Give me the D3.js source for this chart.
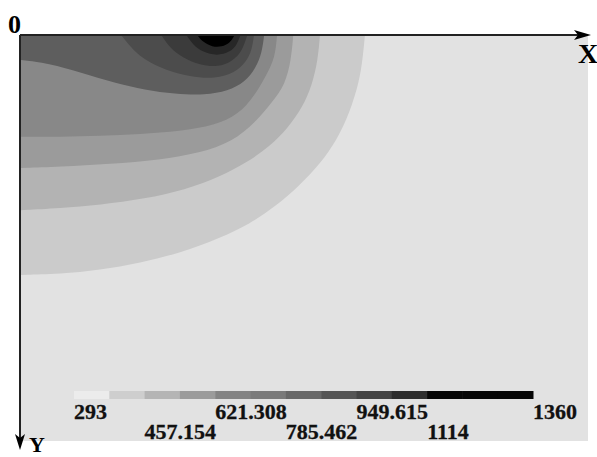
<!DOCTYPE html>
<html>
<head>
<meta charset="utf-8">
<script src="https://cdn.jsdelivr.net/npm/d3@7"></script>
<style>
  body { margin: 0; background: #fff; }
</style>
</head>
<body>
<script>
// isotherm boundaries, plate units: x 0-140, y 0-100 (down from top edge)
let isoA = [[0,59.0],[9.6,58.8],[19.5,57.8],[29.4,56.0],[39.3,53.6],[49.1,49.9],[56.5,46.4],[62.7,42.2],[68.9,36.8],[73.8,31.6],[78.0,25.7],[81.2,18.8],[83.5,11.4],[84.4,5.4],[84.9,0]];
let isoB = [[0,43.0],[9.6,42.5],[19.5,41.7],[30.6,40.2],[40.5,38.0],[49.1,34.8],[56.0,31.1],[61.5,27.2],[65.9,22.7],[69.4,17.8],[71.9,12.1],[73.3,5.9],[73.8,0]];
let isoC = [[0,32.6],[9.6,32.3],[22.0,31.6],[34.3,30.6],[44.2,28.9],[52.1,26.2],[58.0,21.2],[62.0,16.3],[65.2,12.1],[66.7,5.9],[67.2,0]];
let isoD = [[0,24.9],[9.6,24.9],[19.5,24.7],[29.4,24.2],[39.3,23.5],[47.9,22.0],[53.6,19.5],[57.8,14.6],[60.7,9.4],[62.7,5.4],[63.2,0]];
let isoE = [[0,5.9],[6.7,6.7],[15.1,9.1],[23.2,11.6],[30.6,13.3],[38.0,14.3],[45.4,14.6],[51.1,13.6],[55.3,11.4],[58.0,7.9],[59.5,4.0],[60.0,0]];
// rings round the source, both ends on the top edge
let isoF = [[24.9,0],[27.7,3.5],[30.6,5.9],[35.6,8.4],[41.7,10.1],[47.9,10.6],[52.8,9.1],[55.6,6.4],[57.0,3.5],[57.5,0]];
let isoG = [[34.8,0],[36.8,3.0],[40.0,5.4],[44.2,7.2],[48.6,7.7],[52.3,6.2],[54.6,3.7],[55.8,0]];
let isoH = [[41.0,0],[42.5,2.2],[44.9,4.0],[48.4,4.9],[51.6,4.0],[53.3,2.2],[54.1,0]];
let isoI = [[43.7,0],[44.9,1.5],[47.2,2.7],[49.6,2.7],[51.6,1.7],[52.6,0]];

let levelColors = ["#e2e2e2","#cbcbcb","#b3b3b3","#9b9b9b","#888888","#5e5e5e","#4c4c4c","#3b3b3b","#272727","#000000"];

let legendColors = ["#ececec","#cecece","#b5b5b5","#9b9b9b","#848484","#7a7a7a","#686868","#555555","#444444","#2e2e2e","#060606","#060606","#060606"];
let legendValues = [293, 457.154, 621.308, 785.462, 949.615, 1114, 1360];
let legendLabels = ["293","457.154","621.308","785.462","949.615","1114","1360"];

const svg = d3.select("body").append("svg")
    .attr("width", 597)
    .attr("height", 457)
    .style("background-color", "#fff");

let x = d3.scaleLinear().domain([0, 140]).range([21, 588]);
let y = d3.scaleLinear().domain([0, 100]).range([36, 441]);

// plate background = coolest level
svg.append("rect")
    .attr("x", x(0)).attr("y", y(0))
    .attr("width", x(140) - x(0))
    .attr("height", y(100) - y(0))
    .attr("fill", levelColors[0]);

let isolines = [
    {pts: isoA, lvl: 1, edge: true},
    {pts: isoB, lvl: 2, edge: true},
    {pts: isoC, lvl: 3, edge: true},
    {pts: isoD, lvl: 4, edge: true},
    {pts: isoE, lvl: 5, edge: true},
    {pts: isoF, lvl: 6, edge: false},
    {pts: isoG, lvl: 7, edge: false},
    {pts: isoH, lvl: 8, edge: false},
    {pts: isoI, lvl: 9, edge: false}
];

let lineGen = d3.line()
    .x(d => x(d[0]))
    .y(d => y(d[1]))
    .curve(d3.curveBasis);

svg.selectAll(".band")
    .data(isolines)
    .enter()
    .append("path")
    .attr("class", "band")
    .attr("d", d => d.edge
        ? lineGen(d.pts) + "L" + x(0) + "," + y(0) + "Z"
        : lineGen(d.pts) + "Z")
    .attr("fill", d => levelColors[d.lvl]);

// axes with arrows
svg.append("line")
    .attr("x1", 20).attr("y1", 35).attr("x2", 586).attr("y2", 35)
    .attr("stroke", "#222").attr("stroke-width", 2);
svg.append("path")
    .attr("d", "M591,35 L574,30 L578,35 L574,40 Z")
    .attr("fill", "#000");
svg.append("line")
    .attr("x1", 20).attr("y1", 35).attr("x2", 20).attr("y2", 445)
    .attr("stroke", "#222").attr("stroke-width", 2);
svg.append("path")
    .attr("d", "M20,450 L15,434 L20,438 L25,434 Z")
    .attr("fill", "#000");

svg.append("text")
    .attr("x", 8).attr("y", 33)
    .attr("font-family", "Liberation Serif, serif")
    .attr("font-weight", "bold")
    .attr("font-size", "26px")
    .text("0");
svg.append("text")
    .attr("x", 578).attr("y", 63)
    .attr("font-family", "Liberation Serif, serif")
    .attr("font-weight", "bold")
    .attr("font-size", "28px")
    .text("X");
svg.append("text")
    .attr("x", 29).attr("y", 452)
    .attr("font-family", "Liberation Serif, serif")
    .attr("font-weight", "bold")
    .attr("font-size", "22px")
    .text("Y");

// legend
let legScale = d3.scaleLinear().domain([293, 1360]).range([74, 533]);
let segScale = d3.scaleBand().domain(d3.range(legendColors.length)).range([74, 533]);

svg.selectAll(".seg")
    .data(legendColors)
    .enter()
    .append("rect")
    .attr("class", "seg")
    .attr("x", (d, i) => segScale(i))
    .attr("y", 391)
    .attr("width", segScale.bandwidth() + 0.5)
    .attr("height", 8)
    .attr("fill", d => d);

svg.selectAll(".leglab")
    .data(legendValues)
    .enter()
    .append("text")
    .attr("class", "leglab")
    .attr("x", d => legScale(d))
    .attr("y", (d, i) => i % 2 == 0 ? 419 : 439)
    .attr("font-family", "Liberation Serif, serif")
    .attr("font-weight", "bold")
    .attr("font-size", "22px")
    .attr("fill", "#111")
    .attr("stroke", "#111")
    .attr("stroke-width", 0.3)
    .text((d, i) => legendLabels[i]);
</script>
</body>
</html>
